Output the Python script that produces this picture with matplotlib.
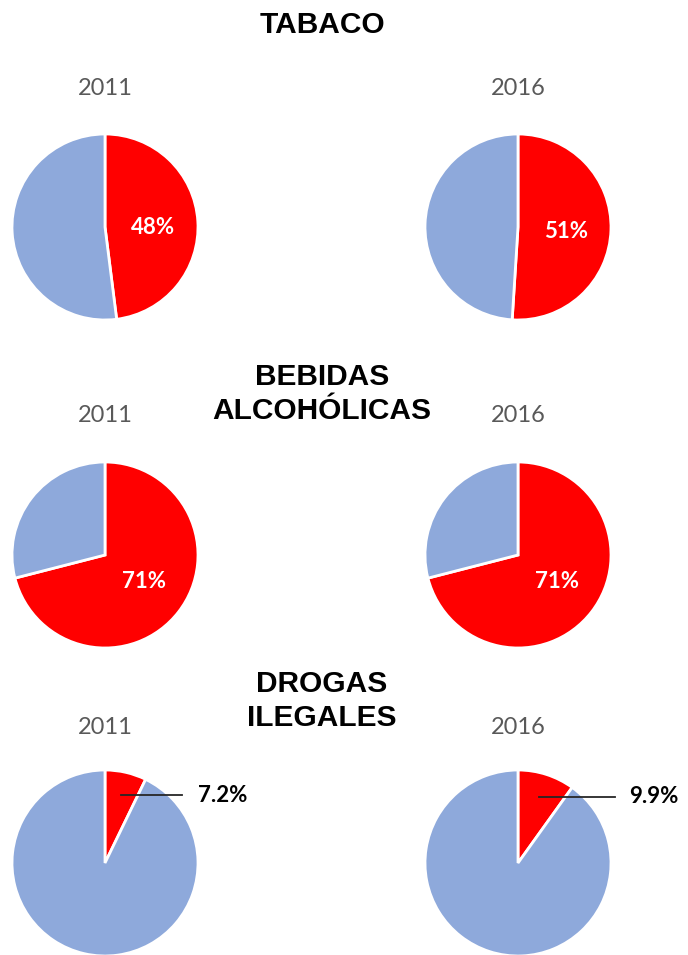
import numpy as np
import matplotlib.pyplot as plt

# data
sections = ["TABACO", "BEBIDAS\nALCOHÓLICAS", "DROGAS\nILEGALES"]
years = ["2011", "2016"]
share_2011 = [48, 71, 7.2]
share_2016 = [51, 71, 9.9]
pct_labels_2011 = ["48%", "71%", "7.2%"]
pct_labels_2016 = ["51%", "71%", "9.9%"]

RED = "#FF0000"
BLUE = "#8EA9DB"
W, H = 688, 955

fig = plt.figure(figsize=(W / 100, H / 100), dpi=100)
fig.patch.set_facecolor("white")


def px_axes(cx, cy, r):
    return fig.add_axes([(cx - r) / W, 1 - (cy + r) / H, 2 * r / W, 2 * r / H])


def fig_text(x, y, s, **kw):
    fig.text(x / W, 1 - y / H, s, ha="center", va="center", **kw)


col_x = [105, 518]
row_y = [227, 555, 863]
year_y = [88, 415, 727]
title_y = [25, 394, 701]
R = 93

# leader lines for the small slices: (line end x, text x) in radius units
leader = [(0.83, 1.0), (1.04, 1.19)]

for i, sec in enumerate(sections):
    fig_text(322, title_y[i], sec, fontsize=21.5, fontweight="bold",
             family="Liberation Sans", color="black", linespacing=1.25)
    for j, (vals, labs) in enumerate([(share_2011, pct_labels_2011),
                                       (share_2016, pct_labels_2016)]):
        v = vals[i]
        fig_text(col_x[j], year_y[i], years[j], fontsize=17, family="Lato",
                 color="#595959")
        ax = px_axes(col_x[j], row_y[i], R)
        wedges, _ = ax.pie([v, 100 - v], colors=[RED, BLUE], startangle=90,
                           counterclock=False, radius=1,
                           wedgeprops=dict(edgecolor="white", linewidth=2))
        ax.set_xlim(-1, 1)
        ax.set_ylim(-1, 1)
        ax.set_aspect("auto")
        ax.axis("off")
        mid = np.deg2rad((wedges[0].theta1 + wedges[0].theta2) / 2)
        if v > 20:
            ax.text(0.5 * np.cos(mid) + 0.02, 0.42 * np.sin(mid) - 0.03,
                    labs[i], ha="center", va="center", color="white",
                    fontsize=16, fontweight="bold", family="Lato")
        else:
            x0, y0 = 0.75 * np.cos(mid), 0.75 * np.sin(mid)
            x_end, x_txt = leader[j]
            ax.plot([x0, x_end], [y0, y0], color="#262626", lw=1.3,
                    clip_on=False)
            ax.text(x_txt, y0, labs[i], ha="left", va="center",
                    color="black", fontsize=16, fontweight="bold",
                    family="Lato", clip_on=False)

fig.savefig("out.png", dpi=100, facecolor="white")
